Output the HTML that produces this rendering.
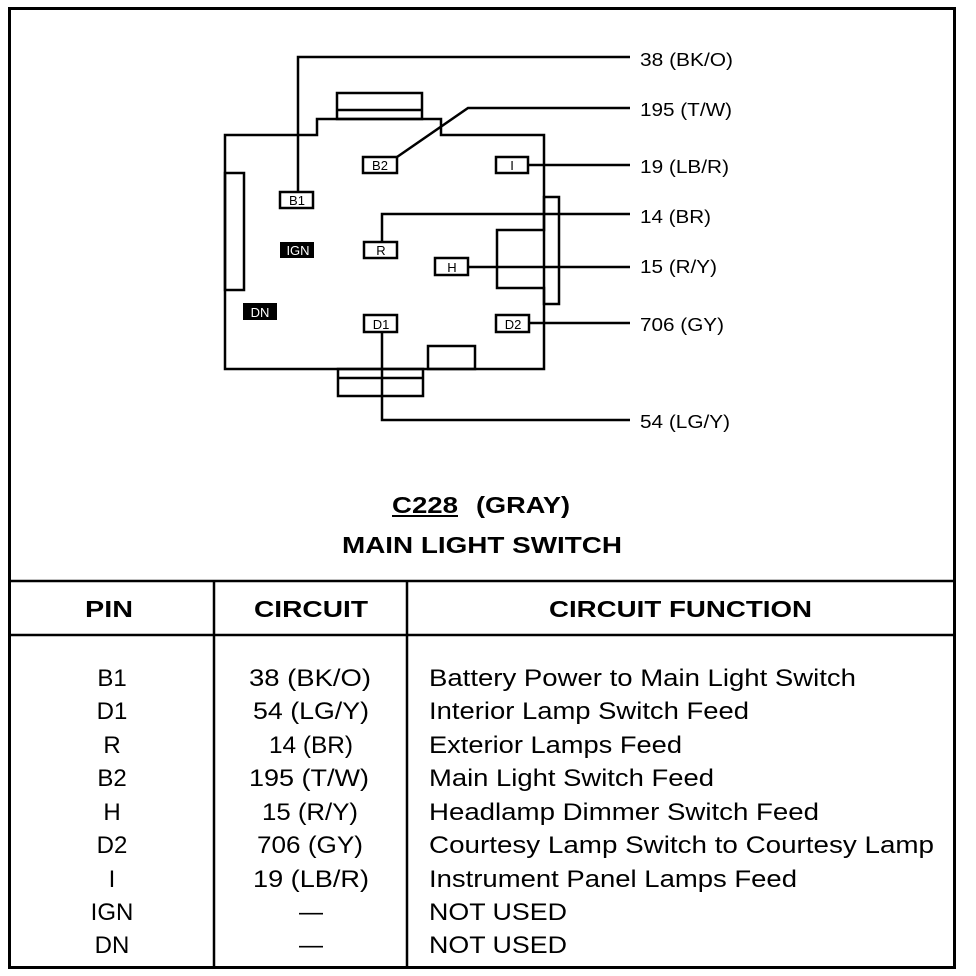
<!DOCTYPE html>
<html><head><style>
html,body{margin:0;padding:0;background:#fff;}
svg{display:block;}
text{font-family:"Liberation Sans",Arial,sans-serif;fill:#000;}
</style></head><body>
<svg width="976" height="976" viewBox="0 0 976 976" xmlns="http://www.w3.org/2000/svg">
<rect x="0" y="0" width="976" height="976" fill="#fff"/>
<rect x="9.5" y="8.5" width="945" height="959" fill="none" stroke="#000" stroke-width="3"/>
<g fill="none" stroke="#000" stroke-width="2.5">
<path d="M225 135 H317 V119 H441 V135 H544 V230 H497 V288 H544 V369 H225 Z"/>
<rect x="337" y="93" width="85" height="26"/>
<line x1="337" y1="110" x2="422" y2="110"/>
<rect x="225" y="173" width="19" height="117"/>
<rect x="428" y="346" width="47" height="23"/>
<rect x="338" y="369" width="85" height="27"/>
<line x1="338" y1="378" x2="423" y2="378"/>
<rect x="544" y="197" width="15" height="107"/>
<path d="M298 192 V57 H630"/>
<path d="M397 157 L468 108 H630"/>
<path d="M528 165 H630"/>
<path d="M382 242 V214 H630"/>
<path d="M468 267 H630"/>
<path d="M529 323 H630"/>
<path d="M382 332 V420 H630"/>
<rect x="363" y="157" width="34" height="16" fill="#fff"/>
<rect x="496" y="157" width="32" height="16" fill="#fff"/>
<rect x="280" y="192" width="33" height="16" fill="#fff"/>
<rect x="364" y="242" width="33" height="16" fill="#fff"/>
<rect x="435" y="258" width="33" height="17" fill="#fff"/>
<rect x="364" y="315" width="33" height="17" fill="#fff"/>
<rect x="496" y="315" width="33" height="17" fill="#fff"/>
</g>
<rect x="280" y="242" width="34" height="16" fill="#000"/>
<rect x="243" y="303" width="34" height="17" fill="#000"/>
<g font-size="13" text-anchor="middle">
<text x="380" y="170">B2</text>
<text x="512" y="170">I</text>
<text x="297" y="205">B1</text>
<text x="298" y="255" style="fill:#fff">IGN</text>
<text x="381" y="255">R</text>
<text x="452" y="272">H</text>
<text x="260" y="317" style="fill:#fff">DN</text>
<text x="381" y="329">D1</text>
<text x="513" y="329">D2</text>
</g>
<g font-size="18" lengthAdjust="spacingAndGlyphs">
<text x="640" y="66" textLength="93" lengthAdjust="spacingAndGlyphs">38 (BK/O)</text>
<text x="640" y="116" textLength="92" lengthAdjust="spacingAndGlyphs">195 (T/W)</text>
<text x="640" y="173" textLength="89" lengthAdjust="spacingAndGlyphs">19 (LB/R)</text>
<text x="640" y="223" textLength="71" lengthAdjust="spacingAndGlyphs">14 (BR)</text>
<text x="640" y="273" textLength="77" lengthAdjust="spacingAndGlyphs">15 (R/Y)</text>
<text x="640" y="331" textLength="84" lengthAdjust="spacingAndGlyphs">706 (GY)</text>
<text x="640" y="428" textLength="90" lengthAdjust="spacingAndGlyphs">54 (LG/Y)</text>
</g>
<g font-size="23" font-weight="bold">
<text x="392" y="513" textLength="66" lengthAdjust="spacingAndGlyphs">C228</text>
<line x1="392" y1="516" x2="458" y2="516" stroke="#000" stroke-width="2"/>
<text x="476" y="513" textLength="94" lengthAdjust="spacingAndGlyphs">(GRAY)</text>
<text x="342" y="553" textLength="280" lengthAdjust="spacingAndGlyphs">MAIN LIGHT SWITCH</text>
<text x="85" y="617" textLength="48" lengthAdjust="spacingAndGlyphs">PIN</text>
<text x="254" y="617" textLength="114" lengthAdjust="spacingAndGlyphs">CIRCUIT</text>
<text x="549" y="617" textLength="263" lengthAdjust="spacingAndGlyphs">CIRCUIT FUNCTION</text>
</g>
<g stroke="#000" stroke-width="2.5">
<line x1="9" y1="581" x2="955" y2="581"/>
<line x1="9" y1="635" x2="955" y2="635"/>
<line x1="214" y1="581" x2="214" y2="968"/>
<line x1="407" y1="581" x2="407" y2="968"/>
</g>
<g font-size="24">
<g text-anchor="middle">
<text x="112" y="686">B1</text>
<text x="112" y="719">D1</text>
<text x="112" y="753">R</text>
<text x="112" y="786">B2</text>
<text x="112" y="820">H</text>
<text x="112" y="853">D2</text>
<text x="112" y="887">I</text>
<text x="112" y="920">IGN</text>
<text x="112" y="953">DN</text>
<text x="311" y="920">—</text>
<text x="311" y="953">—</text>
</g>
<text x="249" y="686" textLength="122" lengthAdjust="spacingAndGlyphs">38 (BK/O)</text>
<text x="253" y="719" textLength="116" lengthAdjust="spacingAndGlyphs">54 (LG/Y)</text>
<text x="269" y="753" textLength="84" lengthAdjust="spacingAndGlyphs">14 (BR)</text>
<text x="249" y="786" textLength="120" lengthAdjust="spacingAndGlyphs">195 (T/W)</text>
<text x="262" y="820" textLength="96" lengthAdjust="spacingAndGlyphs">15 (R/Y)</text>
<text x="257" y="853" textLength="106" lengthAdjust="spacingAndGlyphs">706 (GY)</text>
<text x="253" y="887" textLength="116" lengthAdjust="spacingAndGlyphs">19 (LB/R)</text>
<text x="429" y="686" textLength="427" lengthAdjust="spacingAndGlyphs">Battery Power to Main Light Switch</text>
<text x="429" y="719" textLength="320" lengthAdjust="spacingAndGlyphs">Interior Lamp Switch Feed</text>
<text x="429" y="753" textLength="253" lengthAdjust="spacingAndGlyphs">Exterior Lamps Feed</text>
<text x="429" y="786" textLength="285" lengthAdjust="spacingAndGlyphs">Main Light Switch Feed</text>
<text x="429" y="820" textLength="390" lengthAdjust="spacingAndGlyphs">Headlamp Dimmer Switch Feed</text>
<text x="429" y="853" textLength="505" lengthAdjust="spacingAndGlyphs">Courtesy Lamp Switch to Courtesy Lamp</text>
<text x="429" y="887" textLength="368" lengthAdjust="spacingAndGlyphs">Instrument Panel Lamps Feed</text>
<text x="429" y="920" textLength="138" lengthAdjust="spacingAndGlyphs">NOT USED</text>
<text x="429" y="953" textLength="138" lengthAdjust="spacingAndGlyphs">NOT USED</text>
</g>
</svg>
</body></html>
